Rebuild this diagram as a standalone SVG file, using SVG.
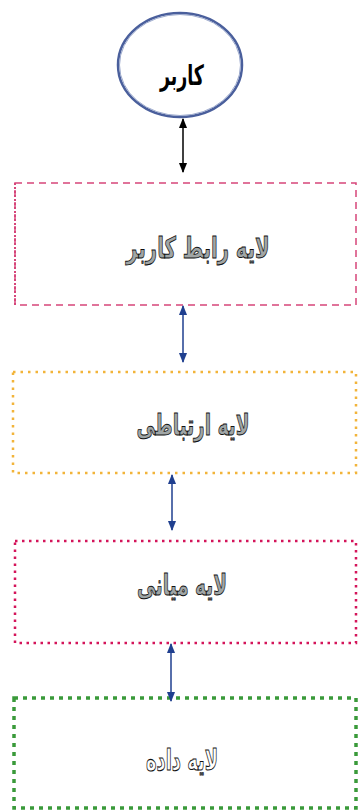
<svg xmlns="http://www.w3.org/2000/svg" width="360" height="811" viewBox="0 0 360 811">
<style>
.t{font-family:"DejaVu Sans","Noto Sans",sans-serif;font-weight:bold;text-anchor:middle;dominant-baseline:middle;font-size:28px}
.o{fill:#a0a6a6;stroke:#111;stroke-width:0.9}
.c{stroke-width:1.5;fill:none}
</style>
<defs>
<marker id="ak" viewBox="0 0 10 10" refX="9" refY="5" markerWidth="7" markerHeight="7" orient="auto-start-reverse"><path d="M0,1 L10,5 L0,9 z" fill="#000"/></marker>
<marker id="ab" viewBox="0 0 10 10" refX="9" refY="5" markerWidth="7" markerHeight="7" orient="auto-start-reverse"><path d="M0,1 L10,5 L0,9 z" fill="#1f3f8f"/></marker>
</defs>
<rect width="360" height="811" fill="#fff"/>
<g id="user">
<ellipse cx="180" cy="65" rx="62" ry="52" fill="#fff" stroke="#4a5f9c" stroke-width="2.5"/>
<ellipse cx="180" cy="65" rx="60.5" ry="50.5" fill="none" stroke="#9aa8cc" stroke-width="1"/>
<text class="t" transform="translate(182,77) scale(0.62,1)" fill="#000">کاربر</text>
</g>
<g id="ui-layer">
<rect x="15" y="183" width="341" height="122" fill="#fff" stroke="#d6457a" stroke-width="1.5" stroke-dasharray="7,5"/>
<line x1="15" y1="183" x2="15" y2="305" stroke="#d6457a" stroke-width="2" stroke-dasharray="2,2"/>
<text class="t o" transform="translate(198,250) scale(0.7,1.05)">لایه رابط کاربر</text>
</g>
<g id="comm-layer">
<rect x="13" y="372" width="343" height="101" fill="#fff" stroke="#f2b43a" stroke-width="2.5" stroke-dasharray="2.5,5"/>
<text class="t o" transform="translate(193,427) scale(0.66,1.05)">لایه ارتباطی</text>
</g>
<g id="middle-layer">
<rect x="15" y="541" width="341" height="102" fill="#fff" stroke="#d4145a" stroke-width="2.5" stroke-dasharray="2.5,4.5"/>
<text class="t o" transform="translate(182,587) scale(0.66,1.05)">لایه میانی</text>
</g>
<g id="data-layer">
<rect x="14" y="698" width="342" height="110" fill="#fff" stroke="#3a9a3a" stroke-width="3.5" stroke-dasharray="4,5"/>
<text class="t" transform="translate(182,762) scale(0.64,1.05)" fill="#fff" stroke="#111" stroke-width="1">لایه داده</text>
</g>
<g id="connectors">
<line class="c" x1="183" y1="119" x2="183" y2="172" stroke="#000" marker-start="url(#ak)" marker-end="url(#ak)"/>
<line class="c" x1="183" y1="306" x2="183" y2="362" stroke="#1f3f8f" marker-start="url(#ab)" marker-end="url(#ab)"/>
<line class="c" x1="172" y1="475" x2="172" y2="530" stroke="#1f3f8f" marker-start="url(#ab)" marker-end="url(#ab)"/>
<line class="c" x1="171" y1="644" x2="171" y2="701" stroke="#1f3f8f" marker-start="url(#ab)" marker-end="url(#ab)"/>
</g>
</svg>
